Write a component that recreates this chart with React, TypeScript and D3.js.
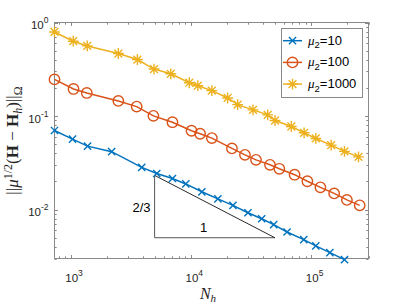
import React, { useEffect, useRef } from 'react';
import * as d3 from 'd3';

// N_h and error values
const nMu10 = [736, 1039, 1386, 2198, 3908, 5210, 7039, 9085, 12350, 16790, 22390, 29850, 38840, 48870, 63100, 86910, 109400, 143200, 189500];
const errMu10 = [0.0701, 0.0567, 0.0477, 0.0416, 0.0283, 0.0243, 0.0215, 0.0188, 0.0155, 0.013, 0.0111, 0.00925, 0.00798, 0.00692, 0.00576, 0.00478, 0.00409, 0.00347, 0.00292];

const nMu100 = [736, 1059, 1366, 2498, 3548, 4887, 7039, 10135, 11950, 14960, 21970, 28180, 34820, 45520, 54420, 72880, 93110, 119500, 155500, 198400, 253500];
const errMu100 = [0.2463, 0.1948, 0.1765, 0.1451, 0.1262, 0.1005, 0.0859, 0.0696, 0.0647, 0.0581, 0.0451, 0.0385, 0.034, 0.0301, 0.0273, 0.0236, 0.0201, 0.0173, 0.0149, 0.0127, 0.0111];

const nMu1000 = [736, 1053, 1377, 2498, 3597, 4943, 6813, 9716, 11440, 14960, 20230, 24500, 32880, 43560, 50120, 68500, 87450, 109400, 146800, 189500, 247700];
const errMu1000 = [0.792, 0.631, 0.562, 0.466, 0.402, 0.318, 0.283, 0.227, 0.211, 0.187, 0.156, 0.1324, 0.1164, 0.103, 0.0896, 0.0773, 0.0662, 0.0576, 0.0489, 0.0419, 0.0366];

const muLabels = ['10', '100', '1000'];
const colors = ['#0072BD', '#D95319', '#EDB120'];
const markerKinds = ['x', 'o', '*'];

const xMajor = [3, 4, 5]; // exponents of 10
const yMajor = [-2, -1, 0];

// slope triangle: one decade in N, 2/3 decade in error
const triN = [5e3, 5e4];
const triErr = 5e-3;
const triRise = 2 / 3;

const App = () => {
  const svgRef = useRef(null);

  useEffect(() => {
    const svg = d3.select(svgRef.current);
    const width = 407;
    const height = 305;
    const box = { left: 54.5, right: 368.5, top: 22.5, bottom: 258.5 };
    const axisColor = '#8a8a8a';
    const sans = '"Liberation Sans", Arial, Helvetica, sans-serif';
    const serif = '"Liberation Serif", "Times New Roman", serif';

    svg.attr('width', width).attr('height', height);

    const x = d3.scaleLog().domain([736, 3.0e5]).range([box.left, box.right]);
    const y = d3.scaleLog().domain([0.003, 1]).range([box.bottom, box.top]);

    svg.append('rect').attr('width', width).attr('height', height).attr('fill', '#fff');

    // ticks, inward on all four sides
    const logTicks = (domain) => {
      const out = [];
      const lo = Math.floor(Math.log10(domain[0]));
      const hi = Math.ceil(Math.log10(domain[1]));
      for (let d = lo; d <= hi; d++) {
        for (let k = 1; k < 10; k++) {
          const v = k * Math.pow(10, d);
          if (v >= domain[0] * 0.999 && v <= domain[1] * 1.001) out.push({ v, major: k === 1 });
        }
      }
      return out;
    };

    const tickG = svg.append('g').attr('stroke', axisColor).attr('stroke-width', 1);
    logTicks(x.domain()).forEach(t => {
      const px = Math.round(x(t.v)) + 0.5;
      const len = t.major ? 3.5 : 2.2;
      tickG.append('line').attr('x1', px).attr('x2', px).attr('y1', box.bottom).attr('y2', box.bottom - len);
      tickG.append('line').attr('x1', px).attr('x2', px).attr('y1', box.top).attr('y2', box.top + len);
    });
    logTicks(y.domain()).forEach(t => {
      const py = Math.round(y(t.v)) + 0.5;
      const len = t.major ? 3.5 : 2.2;
      tickG.append('line').attr('y1', py).attr('y2', py).attr('x1', box.left).attr('x2', box.left + len);
      tickG.append('line').attr('y1', py).attr('y2', py).attr('x1', box.right).attr('x2', box.right - len);
    });

    svg
      .append('rect')
      .attr('x', box.left)
      .attr('y', box.top)
      .attr('width', box.right - box.left)
      .attr('height', box.bottom - box.top)
      .attr('fill', 'none')
      .attr('stroke', axisColor)
      .attr('stroke-width', 1);

    // tick labels
    xMajor.forEach(e => {
      const t = svg
        .append('text')
        .attr('x', x(Math.pow(10, e)) + 3.5)
        .attr('y', 282)
        .attr('text-anchor', 'middle')
        .attr('font-family', sans)
        .attr('font-size', 11.5)
        .attr('fill', '#262626');
      t.append('tspan').text('10');
      t.append('tspan').attr('dy', -6).attr('font-size', 8.5).text(String(e));
    });
    yMajor.forEach(e => {
      const t = svg
        .append('text')
        .attr('x', 48.5)
        .attr('y', y(Math.pow(10, e)) + 6.5)
        .attr('text-anchor', 'end')
        .attr('font-family', sans)
        .attr('font-size', 11.5)
        .attr('fill', '#262626');
      t.append('tspan').text('10');
      t.append('tspan').attr('dy', -6).attr('font-size', 8.5).text(e < 0 ? '-' + Math.abs(e) : String(e));
    });

    // slope triangle
    const tx0 = x(triN[0]);
    const tx1 = x(triN[1]);
    const ty0 = y(triErr);
    const ty1 = y(triErr * Math.pow(10, triRise));
    svg.append('line').attr('x1', tx0).attr('x2', tx0).attr('y1', ty0).attr('y2', ty1).attr('stroke', '#555').attr('stroke-width', 1);
    svg.append('line').attr('x1', tx0).attr('x2', tx1).attr('y1', ty0).attr('y2', ty0).attr('stroke', '#555').attr('stroke-width', 1);
    svg.append('line').attr('x1', tx0).attr('x2', tx1).attr('y1', ty1).attr('y2', ty0).attr('stroke', '#111').attr('stroke-width', 0.9);
    svg
      .append('text')
      .attr('x', tx0 - 4)
      .attr('y', y(0.0104) + 4.5)
      .attr('text-anchor', 'end')
      .attr('font-family', sans)
      .attr('font-size', 13)
      .attr('fill', '#000')
      .text('2/3');
    svg
      .append('text')
      .attr('x', x(1.28e4))
      .attr('y', ty0 - 5.5)
      .attr('text-anchor', 'middle')
      .attr('font-family', sans)
      .attr('font-size', 13)
      .attr('fill', '#000')
      .text('1');

    // markers
    const drawMarker = (g, kind, cx, cy, color) => {
      if (kind === 'x') {
        const s = 3.6;
        g.append('path')
          .attr('d', `M${cx - s},${cy - s}L${cx + s},${cy + s}M${cx - s},${cy + s}L${cx + s},${cy - s}`)
          .attr('stroke', color).attr('stroke-width', 1.4).attr('fill', 'none');
      } else if (kind === 'o') {
        g.append('circle').attr('cx', cx).attr('cy', cy).attr('r', 5.2)
          .attr('stroke', color).attr('stroke-width', 1.4).attr('fill', 'none');
      } else {
        const r = 5.4;
        const d = r * 0.72;
        g.append('path')
          .attr('d', `M${cx - r},${cy}L${cx + r},${cy}M${cx},${cy - r}L${cx},${cy + r}M${cx - d},${cy - d}L${cx + d},${cy + d}M${cx - d},${cy + d}L${cx + d},${cy - d}`)
          .attr('stroke', color).attr('stroke-width', 1.4).attr('fill', 'none');
      }
    };

    const series = [
      { n: nMu10, e: errMu10 },
      { n: nMu100, e: errMu100 },
      { n: nMu1000, e: errMu1000 },
    ];
    const line = d3.line().x(d => x(d[0])).y(d => y(d[1]));

    series.forEach((s, i) => {
      const pts = s.n.map((n, j) => [n, s.e[j]]);
      const g = svg.append('g');
      g.append('path').attr('d', line(pts)).attr('fill', 'none').attr('stroke', colors[i]).attr('stroke-width', 1.5);
      pts.forEach(p => drawMarker(g, markerKinds[i], x(p[0]), y(p[1]), colors[i]));
    });

    // legend
    const lg = svg.append('g');
    lg.append('rect')
      .attr('x', 281.5).attr('y', 28.5).attr('width', 81).attr('height', 69)
      .attr('fill', '#fff').attr('stroke', axisColor).attr('stroke-width', 1);
    muLabels.forEach((m, i) => {
      const ry = 40.7 + i * 21.7;
      lg.append('line').attr('x1', 283).attr('x2', 302).attr('y1', ry).attr('y2', ry)
        .attr('stroke', colors[i]).attr('stroke-width', 1.5);
      drawMarker(lg, markerKinds[i], 292.5, ry, colors[i]);
      const t = lg.append('text')
        .attr('x', 308)
        .attr('y', ry + 4)
        .attr('font-family', sans)
        .attr('font-size', 13)
        .attr('fill', '#000');
      t.append('tspan').attr('font-family', serif).attr('font-style', 'italic').text('μ');
      t.append('tspan').attr('dy', 3.5).attr('font-size', 9.5).text('2');
      t.append('tspan').attr('dy', -3.5).text('=' + m);
    });

    // axis labels
    const xl = svg.append('text')
      .attr('x', 208)
      .attr('y', 299)
      .attr('text-anchor', 'middle')
      .attr('font-family', serif)
      .attr('font-size', 16)
      .attr('fill', '#262626');
    xl.append('tspan').attr('font-style', 'italic').text('N');
    xl.append('tspan').attr('dy', 3).attr('font-size', 11).attr('font-style', 'italic').text('h');

    const yl = svg.append('text')
      .attr('transform', `translate(18,${(box.top + box.bottom) / 2}) rotate(-90)`)
      .attr('text-anchor', 'middle')
      .attr('font-family', serif)
      .attr('font-size', 17)
      .attr('fill', '#262626');
    yl.append('tspan').text('||');
    yl.append('tspan').attr('font-style', 'italic').text('μ');
    yl.append('tspan').attr('dy', -6).attr('font-size', 12).text('1/2');
    yl.append('tspan').attr('dy', 6).text('(');
    yl.append('tspan').attr('font-weight', 'bold').text('H');
    yl.append('tspan').text(' − ');
    yl.append('tspan').attr('font-weight', 'bold').text('H');
    yl.append('tspan').attr('dy', 3.5).attr('font-size', 12).attr('font-style', 'italic').text('h');
    yl.append('tspan').attr('dy', -3.5).text(')||');
    yl.append('tspan').attr('dy', 3.5).attr('font-size', 12).text('Ω');

    return () => {
      svg.selectAll('*').remove();
    };
  }, []);

  return <svg ref={svgRef} style={{ position: 'absolute', left: 0, top: 0 }}></svg>;
};

export default App;
